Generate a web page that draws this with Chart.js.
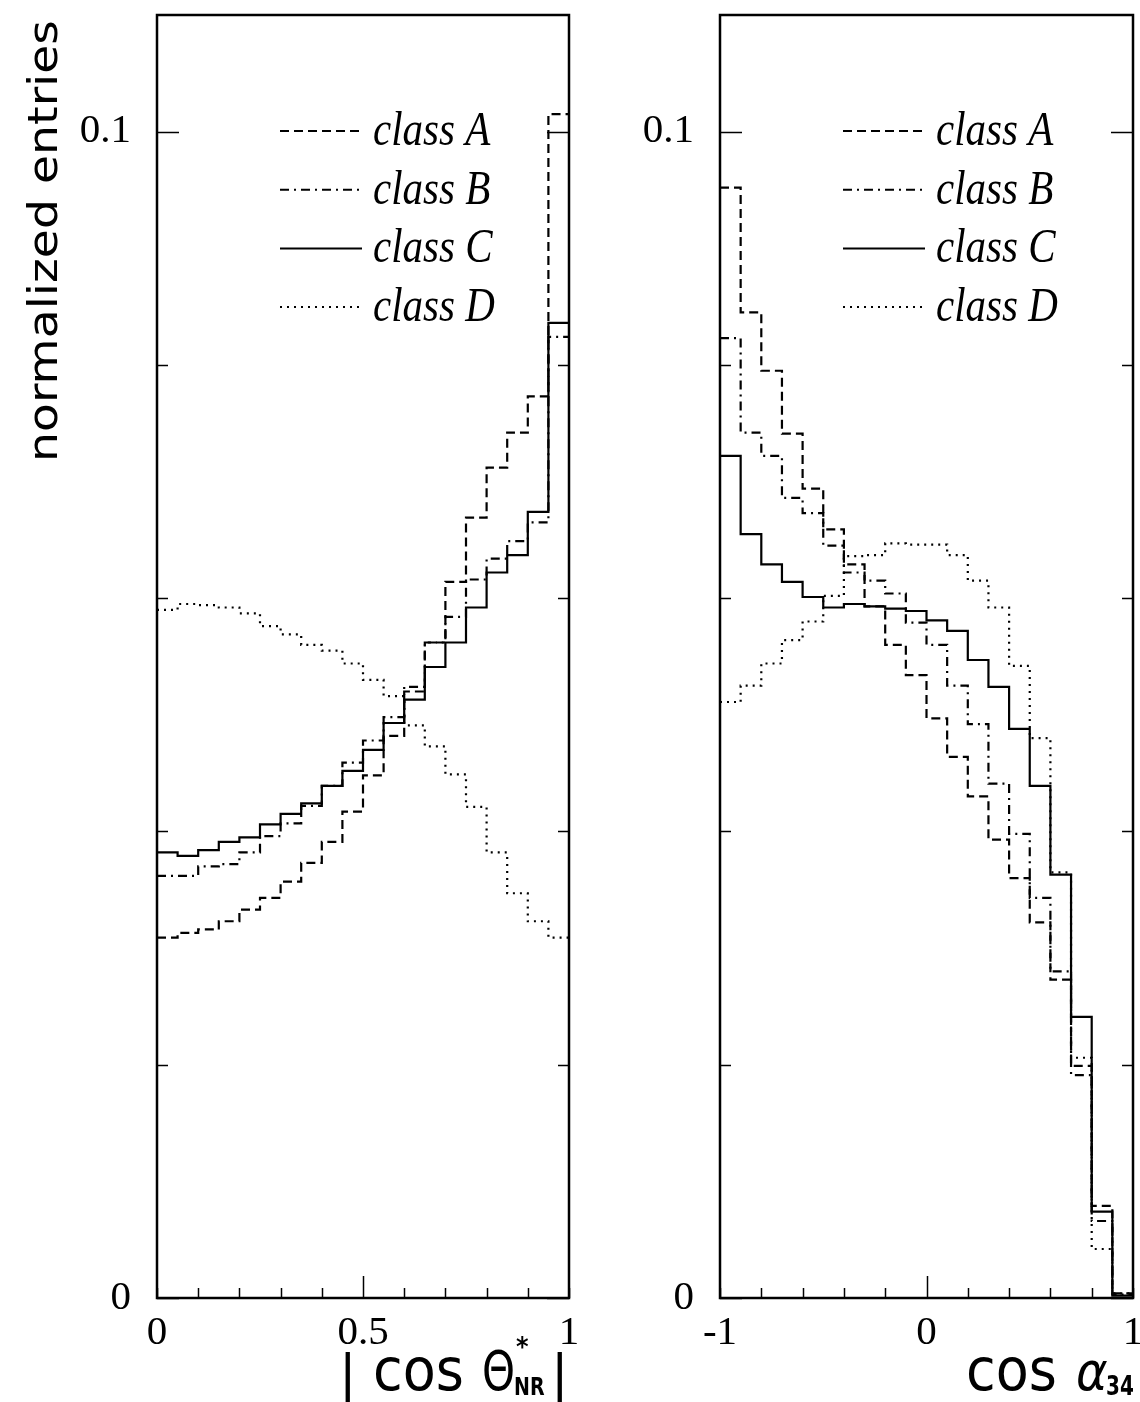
<!DOCTYPE html>
<html>
<head>
<meta charset="utf-8">
<script src="https://cdn.jsdelivr.net/npm/chart.js@4.4.1/dist/chart.umd.min.js"></script>
<style>
  html, body { margin: 0; padding: 0; background: #fff; }
  #page { position: relative; width: 1140px; height: 1402px; overflow: hidden; }
  .box { position: absolute; top: 0; }
  #leftBox { left: 0; }
  #rightBox { left: 600px; }
</style>
</head>
<body>
<div id="page">
  <div class="box" id="leftBox"><canvas id="thetaChart" width="600" height="1402"></canvas></div>
  <div class="box" id="rightBox"><canvas id="alphaChart" width="540" height="1402"></canvas></div>
</div>
<script>
// class names (legend order)
const classNames = ['class A', 'class B', 'class C', 'class D'];

// left panel: |cos theta*_NR|, 20 bins from 0 to 1
const thetaRange = [0, 1];
const thetaA = [0.0309, 0.0313, 0.0316, 0.0323, 0.0333, 0.0343, 0.0357, 0.0373, 0.0391, 0.0417,
                0.0448, 0.0482, 0.0520, 0.0562, 0.0614, 0.0669, 0.0712, 0.0742, 0.0773, 0.1015];
const thetaB = [0.0362, 0.0362, 0.0370, 0.0372, 0.0382, 0.0396, 0.0407, 0.0422, 0.0439, 0.0459,
                0.0478, 0.0498, 0.0524, 0.0562, 0.0584, 0.0616, 0.0634, 0.0649, 0.0665, 0.0824];
const thetaC = [0.0382, 0.0379, 0.0384, 0.0391, 0.0395, 0.0406, 0.0415, 0.0424, 0.0439, 0.0452,
                0.0470, 0.0493, 0.0513, 0.0541, 0.0562, 0.0592, 0.0622, 0.0637, 0.0674, 0.0836];
const thetaD = [0.0590, 0.0595, 0.0594, 0.0592, 0.0587, 0.0576, 0.0569, 0.0560, 0.0555, 0.0544,
                0.0530, 0.0516, 0.0491, 0.0473, 0.0449, 0.0421, 0.0382, 0.0347, 0.0323, 0.0309];
const thetaTickValues = [0, 0.5, 1];
const thetaTickLabels = ['0', '0.5', '1'];

// right panel: cos alpha_34, 20 bins from -1 to 1
const alphaRange = [-1, 1];
const alphaA = [0.0952, 0.0845, 0.0795, 0.0741, 0.0694, 0.0659, 0.0629, 0.0593, 0.0560, 0.0534,
                0.0497, 0.0464, 0.0430, 0.0393, 0.0360, 0.0322, 0.0273, 0.0199, 0.0079, 0.0004];
const alphaB = [0.0823, 0.0742, 0.0722, 0.0686, 0.0673, 0.0645, 0.0622, 0.0615, 0.0604, 0.0579,
                0.0560, 0.0525, 0.0492, 0.0441, 0.0398, 0.0343, 0.0280, 0.0191, 0.0066, 0.0003];
const alphaC = [0.0722, 0.0655, 0.0629, 0.0614, 0.0601, 0.0592, 0.0595, 0.0593, 0.0591, 0.0589,
                0.0581, 0.0572, 0.0547, 0.0524, 0.0488, 0.0439, 0.0363, 0.0241, 0.0074, 0.0002];
const alphaD = [0.0511, 0.0525, 0.0544, 0.0564, 0.0580, 0.0602, 0.0636, 0.0637, 0.0647, 0.0646,
                0.0646, 0.0637, 0.0615, 0.0592, 0.0542, 0.0480, 0.0365, 0.0206, 0.0042, 0.0004];
const alphaTickValues = [-1, 0, 1];
const alphaTickLabels = ['-1', '0', '1'];

// y axis
const yMax = 0.11;
const yTickStep = 0.02;
const yTickValues = [0, 0.1];
const yTickLabels = ['0', '0.1'];

// line styles per class
const dashes = [[9, 5], [9, 5, 2, 5], [], [2, 5]];

const serif = '"Liberation Serif", "Times New Roman", serif';
const sans = '"DejaVu Sans", sans-serif';

// histogram -> step points at lower bin edges, plus the upper edge
function histPoints(range, values) {
    const w = (range[1] - range[0]) / values.length;
    const pts = values.map((v, i) => ({ x: range[0] + i * w, y: v }));
    pts.push({ x: range[1], y: values[values.length - 1] });
    return pts;
}

function labelFor(values, labels, v) {
    const i = values.findIndex(t => Math.abs(t - v) < 1e-9);
    return i >= 0 ? labels[i] : '';
}

// draw text with a vertical stretch (the original lettering is tall)
function stretchedText(ctx, text, x, y, font, sy, align) {
    ctx.save();
    ctx.font = font;
    ctx.textAlign = align || 'left';
    ctx.textBaseline = 'alphabetic';
    ctx.translate(x, y);
    ctx.scale(1, sy);
    ctx.fillText(text, 0, 0);
    ctx.restore();
}

// frame, inward ticks, legend, titles
const decorPlugin = {
    id: 'decor',
    afterDatasetsDraw(chart, args, o) {
        const { ctx, chartArea: a, scales: { x, y } } = chart;
        ctx.save();
        ctx.strokeStyle = '#000';
        ctx.fillStyle = '#000';

        // y ticks on both sides
        ctx.lineWidth = 1.5;
        for (let v = 0; v <= 0.1 + 1e-9; v += yTickStep) {
            const py = Math.round(y.getPixelForValue(v)) + 0.5;
            const major = yTickValues.some(t => Math.abs(t - v) < 1e-9);
            const len = major ? 22 : 11;
            ctx.beginPath();
            ctx.moveTo(a.left, py); ctx.lineTo(a.left + len, py);
            ctx.moveTo(a.right, py); ctx.lineTo(a.right - len, py);
            ctx.stroke();
        }
        // x ticks along the bottom
        for (let k = 0; k <= o.nTicks; k++) {
            const v = o.range[0] + k * o.xStep;
            const px = Math.round(x.getPixelForValue(v)) + 0.5;
            const len = Math.abs(v - o.xMajor) < 1e-9 ? 22 : 10;
            ctx.beginPath();
            ctx.moveTo(px, a.bottom); ctx.lineTo(px, a.bottom - len);
            ctx.stroke();
        }

        // frame
        ctx.lineWidth = 2.5;
        ctx.strokeRect(a.left, a.top, a.right - a.left, a.bottom - a.top);

        // legend
        chart.data.datasets.forEach((ds, i) => {
            const ly = a.top + 116 + i * 58.7;
            ctx.lineWidth = 2;
            ctx.setLineDash(ds.borderDash || []);
            ctx.beginPath();
            ctx.moveTo(a.left + 123, ly); ctx.lineTo(a.left + 205, ly);
            ctx.stroke();
            ctx.setLineDash([]);
            stretchedText(ctx, ds.label, a.left + 216, ly + 14, 'italic 41px ' + serif, 1.18);
        });

        o.drawTitle(ctx, a);
        ctx.restore();
    }
};

function makeChart(id, range, series, tickValues, tickLabels, xStep, xMajor, yAxisWidth, drawTitle, rightPad) {
    const datasets = series.map((vals, i) => ({
        label: classNames[i],
        data: histPoints(range, vals),
        stepped: 'before',
        borderColor: '#000',
        borderWidth: 2.2,
        borderDash: dashes[i],
        pointRadius: 0,
        fill: false
    }));
    return new Chart(document.getElementById(id), {
        type: 'line',
        data: { datasets },
        options: {
            responsive: false,
            animation: false,
            layout: { padding: { top: 15, right: rightPad, left: 0, bottom: 0 } },
            plugins: {
                legend: { display: false },
                tooltip: { enabled: false },
                decor: {
                    range, xStep, xMajor,
                    nTicks: Math.round((range[1] - range[0]) / xStep),
                    drawTitle
                }
            },
            scales: {
                x: {
                    type: 'linear',
                    min: range[0], max: range[1],
                    grid: { display: false },
                    border: { display: false },
                    afterFit: s => { s.height = 1402 - 1298; s.paddingLeft = 0; s.paddingRight = 0; },
                    ticks: {
                        stepSize: xStep,
                        autoSkip: false,
                        maxRotation: 0,
                        padding: 3,
                        color: '#000',
                        font: { family: serif, size: 41 },
                        callback: v => labelFor(tickValues, tickLabels, v)
                    }
                },
                y: {
                    min: 0, max: yMax,
                    grid: { display: false },
                    border: { display: false },
                    afterFit: s => { s.width = yAxisWidth; s.paddingTop = 0; s.paddingBottom = 0; },
                    ticks: {
                        stepSize: yTickStep,
                        includeBounds: false,
                        padding: 18,
                        color: '#000',
                        font: { family: serif, size: 41 },
                        callback: v => labelFor(yTickValues, yTickLabels, v)
                    }
                }
            }
        },
        plugins: [decorPlugin]
    });
}

// left: | cos Θ*_NR |  and the y title
function drawThetaTitle(ctx, a) {
    const base = 1390;
    const big = '54px ' + sans;
    stretchedText(ctx, '|', 339, base + 4, '52px ' + sans, 1.05);
    stretchedText(ctx, 'cos', 373, base, big, 1.08);
    stretchedText(ctx, 'Θ', 482, base, '42px ' + sans, 1.3);
    stretchedText(ctx, '*', 516, base - 34, 'bold 24px ' + sans, 1.1);
    stretchedText(ctx, 'NR', 514, base + 5, 'bold 19px ' + sans, 1.3);
    stretchedText(ctx, '|', 551, base + 4, '52px ' + sans, 1.05);

    // rotated y title
    ctx.save();
    ctx.font = '40px ' + sans;
    const txt = 'normalized entries';
    const w = ctx.measureText(txt).width;
    ctx.translate(57, 241);
    ctx.rotate(-Math.PI / 2);
    ctx.scale(442 / w, 1);
    ctx.textAlign = 'center';
    ctx.textBaseline = 'alphabetic';
    ctx.fillText(txt, 0, 0);
    ctx.restore();
}

// right: cos α_34
function drawAlphaTitle(ctx, a) {
    const base = 1390;
    stretchedText(ctx, 'cos', 366, base, '54px ' + sans, 1.08);
    stretchedText(ctx, 'α', 476, base, 'italic 48px ' + sans, 1.1);
    stretchedText(ctx, '34', 506, base + 5, 'bold 20px ' + sans, 1.3);
}

makeChart('thetaChart', thetaRange, [thetaA, thetaB, thetaC, thetaD],
          thetaTickValues, thetaTickLabels, 0.1, 0.5, 157, drawThetaTitle, 600 - 569);
makeChart('alphaChart', alphaRange, [alphaA, alphaB, alphaC, alphaD],
          alphaTickValues, alphaTickLabels, 0.2, 0, 120, drawAlphaTitle, 540 - 533);
</script>
</body>
</html>
